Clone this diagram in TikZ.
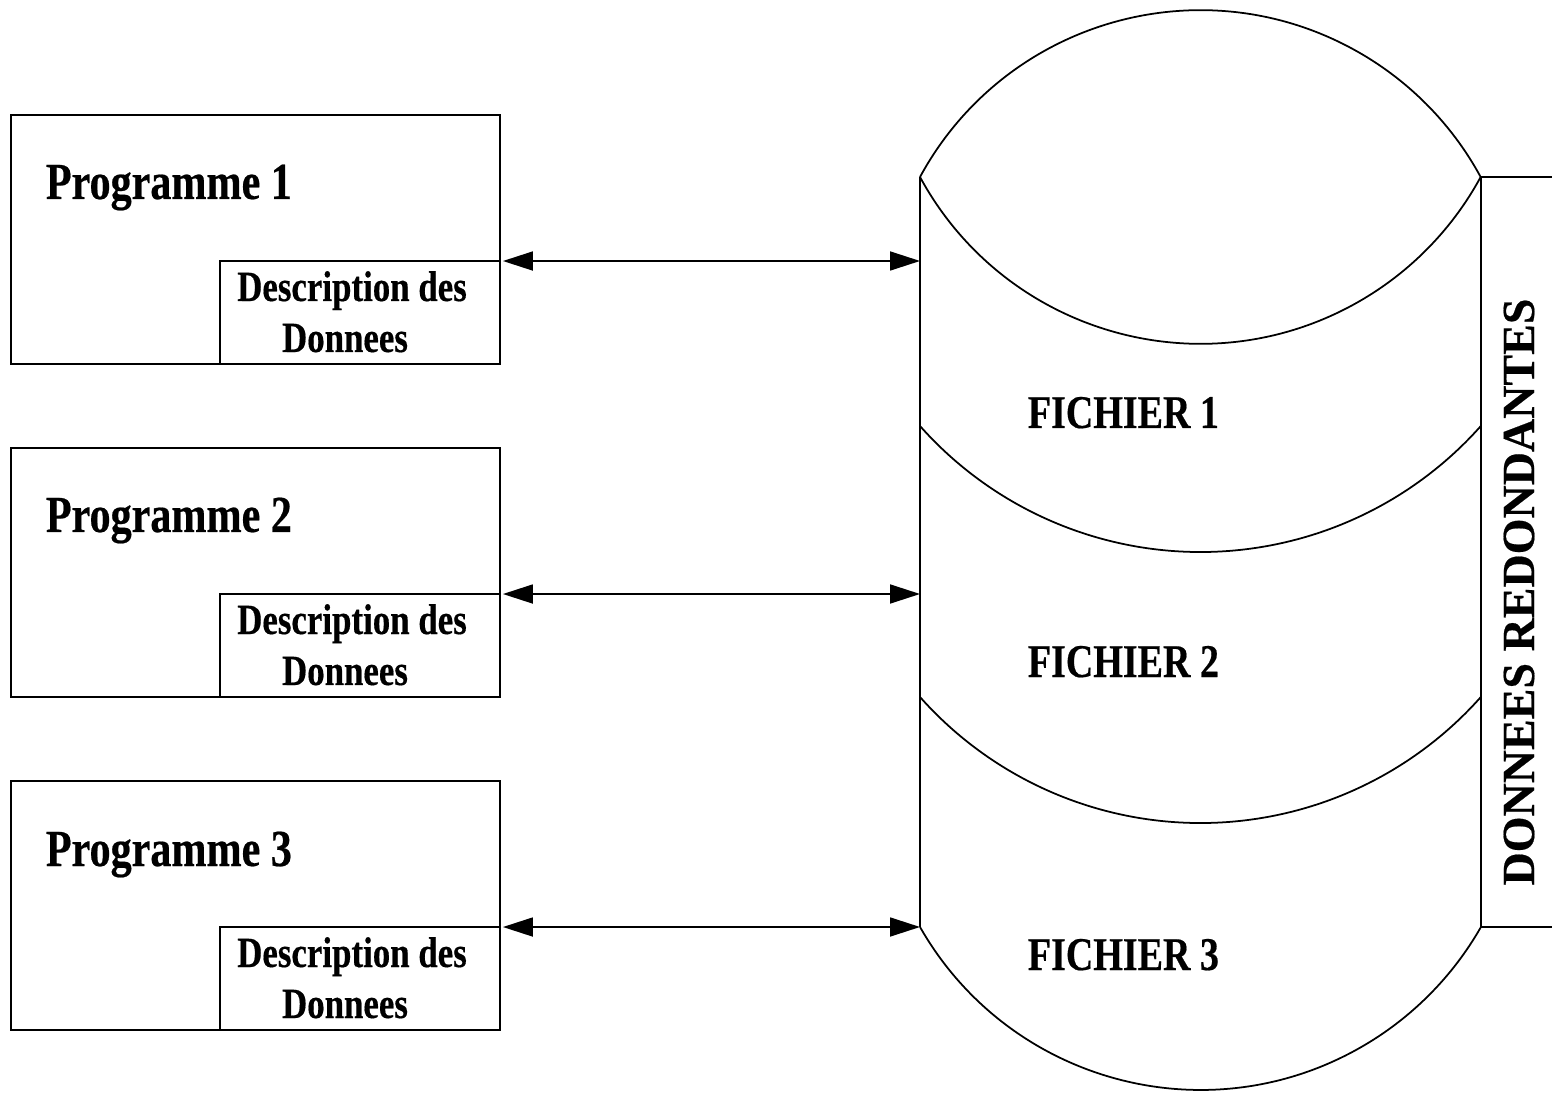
\documentclass[tikz,border=0pt]{standalone}
\usepackage{fontspec}
\usetikzlibrary{arrows.meta}
\newfontfamily\condfont{Liberation Serif}[FakeStretch=0.81, FakeBold=0.4]
\newfontfamily\widefont{Liberation Serif}[FakeBold=0.4]
\begin{document}
\begin{tikzpicture}[x=0.02cm, y=0.02cm, line width=1pt,
  progbox/.style={draw, anchor=south west, minimum width=9.78cm, minimum height=4.98cm, inner sep=0pt, outer sep=0pt},
  descbox/.style={draw, anchor=south west, minimum width=5.6cm, minimum height=2.06cm, inner sep=0pt, outer sep=0pt},
  progtext/.style={anchor=base west, inner sep=0pt, font=\condfont\bfseries\fontsize{29.6}{34}\selectfont},
  desctext/.style={anchor=base, inner sep=0pt, font=\condfont\bfseries\fontsize{24.5}{28}\selectfont},
  filetext/.style={anchor=base west, inner sep=0pt, font=\condfont\bfseries\fontsize{26.7}{30}\selectfont},
  sidetext/.style={anchor=base, rotate=90, inner sep=0pt, font=\widefont\bfseries\fontsize{26.2}{30}\selectfont},
  link/.style={{Triangle[length=0.6cm,width=0.38cm]}-{Triangle[length=0.6cm,width=0.38cm]}}]
\useasboundingbox (0,0) rectangle (1552,1093);

% program boxes with their data description sub-boxes
\node[progbox] (p1) at (11,729) {};
\node[descbox] (d1) at (220,729) {};
\node[progbox] (p2) at (11,396) {};
\node[descbox] (d2) at (220,396) {};
\node[progbox] (p3) at (11,63) {};
\node[descbox] (d3) at (220,63) {};

\node[progtext] (pt1) at (45,894) {Programme 1};
\node[progtext] (pt2) at (45,561) {Programme 2};
\node[progtext] (pt3) at (45,227) {Programme 3};

\node[desctext] (da1) at (352,792) {Description des};
\node[desctext] (db1) at (345,741) {Donnees};
\node[desctext] (da2) at (352,459) {Description des};
\node[desctext] (db2) at (345,408) {Donnees};
\node[desctext] (da3) at (352,126) {Description des};
\node[desctext] (db3) at (345,75) {Donnees};

% file cylinder
\coordinate (tl) at (920,916);
\coordinate (tr) at (1481,916);
\coordinate (bl) at (920,166);
\coordinate (br) at (1481,166);
\draw (tl) arc[start angle=151.5, end angle=28.5, radius=319];
\draw (tl) arc[start angle=208.5, end angle=331.5, radius=319];
\draw (920,667) arc[start angle=221.6, end angle=318.4, radius=375];
\draw (920,396) arc[start angle=221.6, end angle=318.4, radius=375];
\draw (bl) arc[start angle=209.7, end angle=330.3, radius=322.9];
\draw (tl) -- (bl);
\draw (tr) -- (br);
\draw (tr) -- (1552,916);
\draw (br) -- (1552,166);

\node[filetext] (f1) at (1027,665) {FICHIER 1};
\node[filetext] (f2) at (1027,416) {FICHIER 2};
\node[filetext] (f3) at (1027,123) {FICHIER 3};
\node[sidetext] (red) at (1534,501) {DONNEES REDONDANTES};

% access links between programs and files
\coordinate (c1) at (920,832);
\coordinate (c2) at (920,499);
\coordinate (c3) at (920,166);
\draw[link] ([xshift=0.06cm]d1.north east) -- (c1);
\draw[link] ([xshift=0.06cm]d2.north east) -- (c2);
\draw[link] ([xshift=0.06cm]d3.north east) -- (c3);
\end{tikzpicture}
\end{document}
